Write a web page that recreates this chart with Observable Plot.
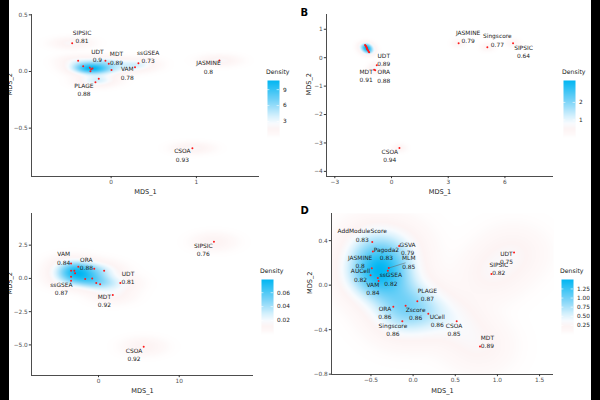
<!DOCTYPE html>
<html>
<head>
<meta charset="utf-8">
<script src="https://cdn.jsdelivr.net/npm/d3@7"></script>
<script src="https://cdn.jsdelivr.net/npm/@observablehq/plot@0.6"></script>
<style>
  body { margin: 0; background: #fff; }
  #root { position: relative; width: 600px; height: 400px; overflow: hidden; font-family: "DejaVu Sans", sans-serif; }
  .bar { position: absolute; top: 0; width: 9px; height: 400px; background: #000; z-index: 10; }
  .legend-title { position: absolute; font-size: 6.2px; color: #222; white-space: nowrap; }
</style>
</head>
<body>
<div id="root"></div>
<script>
// ---- Panel A: MDS coordinates and scores per method (null score = unlabelled point) ----
const aMethod = ["SIPSIC", "UDT", "MDT", "ssGSEA", "VAM", "JASMINE", "PLAGE", "CSOA", "a1", "a2", "a3", "a4", "a5", "a6", "a7", "a8"];
const aX = [-0.457, -0.067, -0.028, 0.32, 0.28, 1.27, -0.184, 0.953, -0.387, -0.328, -0.25, -0.219, -0.243, -0.145, 0.004, -0.235];
const aY = [0.25, 0.094, 0.068, 0.073, 0.038, 0.097, -0.094, -0.677, 0.094, 0.047, 0.033, 0.026, 0.003, -0.065, 0.012, 0.02];
const aScore = [0.81, 0.9, 0.89, 0.73, 0.78, 0.8, 0.88, 0.93, null, null, null, null, null, null, null, null];
const aXTicks = [0, 1];
const aYTicks = [-0.5, 0, 0.5];
const aLegendTicks = [3, 6, 9];

// ---- Panel B ----
const bMethod = ["UDT", "MDT", "ORA", "JASMINE", "Singscore", "SIPSIC", "CSOA", "b1", "b2", "b3", "b4", "b5", "b6", "b7", "b8", "b9", "b10", "b11"];
const bX = [-0.78, -0.92, -0.86, 3.55, 5.07, 6.43, 0.42, -1.40, -1.37, -1.35, -1.33, -1.31, -1.30, -1.29, -1.27, -1.24, -1.21, -1.18];
const bY = [-0.27, -0.42, -0.44, 0.51, 0.37, 0.51, -3.18, 0.45, 0.42, 0.40, 0.38, 0.35, 0.33, 0.30, 0.28, 0.25, 0.21, 0.19];
const bScore = [0.89, 0.91, 0.88, 0.79, 0.77, 0.64, 0.94, null, null, null, null, null, null, null, null, null, null, null];
const bXTicks = [-3, 0, 3, 6];
const bYTicks = [-4, -3, -2, -1, 0, 1];
const bLegendTicks = [1, 2];

// ---- Panel C ----
const cMethod = ["VAM", "ORA", "ssGSEA", "UDT", "MDT", "SIPSIC", "CSOA", "c1", "c2", "c3", "c4", "c5", "c6", "c7", "c8", "c9", "c10"];
const cX = [-3.4, -2.5, -3.4, 2.7, 1.77, 14.3, 5.6, -3.4, -3.0, -2.9, -3.4, -0.53, 0.7, -1.65, -0.78, -0.28, 0.2];
const cY = [1.13, 0.88, -0.17, -0.35, -1.25, 2.75, -5.13, 0.58, 0.58, 0.38, 0.13, 0.73, 0.58, -0.05, 0.0, -0.35, -0.43];
const cScore = [0.84, 0.88, 0.87, 0.81, 0.92, 0.76, 0.92, null, null, null, null, null, null, null, null, null, null];
const cXTicks = [0, 10];
const cYTicks = [-5, -2.5, 0, 2.5];
const cLegendTicks = [0.02, 0.04, 0.06];

// ---- Panel D ----
const dMethod = ["AddModuleScore", "Pagoda2", "GSVA", "MLM", "JASMINE", "AUCell", "ssGSEA", "VAM", "PLAGE", "ORA", "Zscore", "Singscore", "UCell", "CSOA", "MDT", "UDT", "SIPSIC", "d1"];
const dX = [-0.485, -0.477, -0.166, -0.289, -0.49, -0.505, -0.30, -0.41, 0.05, -0.235, -0.089, -0.128, 0.18, 0.517, 0.793, 1.197, 0.929, -0.418];
const dY = [0.387, 0.303, 0.352, 0.154, 0.151, 0.088, 0.13, 0.038, -0.145, -0.193, -0.184, -0.325, -0.258, -0.325, -0.552, 0.294, 0.10, 0.065];
const dScore = [0.83, 0.83, 0.79, 0.85, 0.8, 0.82, 0.82, 0.84, 0.87, 0.86, 0.86, 0.86, 0.86, 0.85, 0.89, 0.75, 0.82, null];
const dXTicks = [-0.5, 0, 0.5, 1, 1.5];
const dYTicks = [-0.8, -0.4, 0, 0.4];
const dLegendTicks = [0.25, 0.5, 0.75, 1, 1.25];

// Label placement (pixel offset of the two-line label centre from its point)
const labelShift = {
  A: {SIPSIC: [9.8, -6.9], UDT: [-8, -5.3], MDT: [7.7, -5.8], ssGSEA: [9.7, -6.7], VAM: [-7.7, 5.8], JASMINE: [-11, 6.5], PLAGE: [-11.5, 7.3], CSOA: [-10, 6.8]},
  B: {UDT: [7, -5.8], MDT: [-8, 5.7], ORA: [8.5, 5.5], JASMINE: [9.5, -6.9], Singscore: [10, -7.5], SIPSIC: [10.4, 7.8], CSOA: [-9.7, 7.1]},
  C: {VAM: [-7.4, -5.5], ORA: [8, -3.5], ssGSEA: [-9.7, 7.5], UDT: [7.7, -5.6], MDT: [-8.4, 5.5], SIPSIC: [-10.7, 7.5], CSOA: [-9.7, 7.5]},
  D: {AddModuleScore: [-10, -7.1], Pagoda2: [13.5, 2.1], GSVA: [8.5, 2.1], MLM: [20, -6.2], JASMINE: [-11.7, -6.9], AUCell: [-10, -0.7],
      ssGSEA: [3, 8], VAM: [-5.7, 7.5], PLAGE: [10, -7.2], ORA: [-8.4, 5.5], Zscore: [10, 7.5], Singscore: [-9.4, 7.8],
      UCell: [9, 6.7], CSOA: [-2.7, 7.8], MDT: [7.4, -5], UDT: [-7.6, 4.6], SIPSIC: [7.3, -5.9]}
};
// labels joined to their point by a short segment
const labelSegments = {D: ["MLM"]};

const root = document.getElementById("root");
const FONT = "DejaVu Sans, sans-serif";

// density fill: white at zero, faint rose for low values, pale to deep sky blue at the peak
const rampStops = [[0, "#ffffff"], [0.05, "#fef9f9"], [0.15, "#fdf4f4"], [0.25, "#f8fbfe"], [0.36, "#daf2fd"], [0.62, "#80d5f8"], [1, "#00b6f2"]];
function ramp(t) {
  t = Math.max(0, Math.min(1, t));
  for (let i = 1; i < rampStops.length; i++) {
    const [t1, c1] = rampStops[i];
    const [t0, c0] = rampStops[i - 1];
    if (t <= t1) return d3.interpolateRgb(c0, c1)((t - t0) / (t1 - t0));
  }
  return rampStops[rampStops.length - 1][1];
}

// 2-D Gaussian kernel density with normal-reference bandwidths
function kde(xs, ys) {
  const n = xs.length;
  const bw = v => {
    const iqr = d3.quantile(v, 0.75) - d3.quantile(v, 0.25);
    return 1.06 * Math.min(d3.deviation(v), iqr / 1.34) * Math.pow(n, -0.2);
  };
  const hx = bw(xs), hy = bw(ys);
  const c = 1 / (2 * Math.PI * hx * hy * n);
  return (x, y) => {
    let s = 0;
    for (let i = 0; i < n; i++) {
      const u = (x - xs[i]) / hx, v = (y - ys[i]) / hy;
      s += Math.exp(-0.5 * (u * u + v * v));
    }
    return s * c;
  };
}

function place(el, left, top) {
  el.style.position = "absolute";
  el.style.left = left + "px";
  el.style.top = top + "px";
  root.appendChild(el);
}

function drawPanel(p) {
  const rows = p.method.map((m, i) => ({method: m, x: p.x[i], y: p.y[i], score: p.score[i]}));
  const density = kde(p.x, p.y);
  let peak = 0;
  for (let i = 0; i < 100; i++) {
    for (let j = 0; j < 100; j++) {
      const gx = p.xDomain[0] + (p.xDomain[1] - p.xDomain[0]) * i / 99;
      const gy = p.yDomain[0] + (p.yDomain[1] - p.yDomain[0]) * j / 99;
      peak = Math.max(peak, density(gx, gy));
    }
  }
  const shifts = labelShift[p.key];
  const labelled = rows.filter(d => d.score != null);
  const segs = labelSegments[p.key] || [];

  const marks = [
    Plot.raster({fill: density, x1: p.xDomain[0], x2: p.xDomain[1], y1: p.yDomain[0], y2: p.yDomain[1], pixelSize: 1}),
    Plot.ruleX([p.xDomain[0]], {stroke: "#000", strokeWidth: 0.7}),
    Plot.ruleY([p.yDomain[0]], {stroke: "#000", strokeWidth: 0.7}),
    Plot.axisX({ticks: p.xTicks, tickFormat: p.xFormat, tickSize: 2.2, tickPadding: 1.5, stroke: "#333", fill: "#4d4d4d", fontSize: 5.8, label: null}),
    Plot.axisY({ticks: p.yTicks, tickFormat: p.yFormat, tickSize: 2.2, tickPadding: 1.5, stroke: "#333", fill: "#4d4d4d", fontSize: 5.8, label: null}),
    Plot.text(["MDS_1"], {frameAnchor: "bottom", dy: p.xTitleDy, lineAnchor: "middle", fontSize: 6.6, fill: "#222"}),
    Plot.text(["MDS_2"], {frameAnchor: "left", dx: p.yTitleDx, rotate: -90, lineAnchor: "middle", fontSize: 6.6, fill: "#222"}),
    Plot.text([p.letter], {frameAnchor: "top-left", dx: p.letterDx, dy: p.letterDy, textAnchor: "start", lineAnchor: "middle", fontSize: 10, fontWeight: "bold", fill: "#000"}),
    ...labelled.filter(d => segs.includes(d.method)).map(d => {
      const [sx, sy] = shifts[d.method];
      const len = Math.hypot(sx, sy) * 0.82;
      const ang = Math.atan2(sx, -sy) * 180 / Math.PI;
      return Plot.vector([d], {x: "x", y: "y", length: len, rotate: ang, anchor: "start", stroke: "#666", strokeWidth: 0.5,
        shape: {draw(context, l) { context.moveTo(0, 0); context.lineTo(0, -l); }}});
    }),
    Plot.dot(rows, {x: "x", y: "y", r: 1, fill: "#ff1a1a", stroke: null}),
    ...labelled.map(d => Plot.text([d], {
      x: "x", y: "y", text: r => `${r.method}\n${r.score}`,
      dx: shifts[d.method][0], dy: shifts[d.method][1],
      lineAnchor: "middle", lineHeight: 1.42, fontSize: 5.9, fill: "#222"
    }))
  ];

  const svg = Plot.plot({
    width: 300, height: 200,
    marginLeft: p.m[0], marginRight: p.m[1], marginTop: p.m[2], marginBottom: p.m[3],
    style: {fontFamily: FONT, background: "transparent", overflow: "visible"},
    x: {domain: p.xDomain},
    y: {domain: p.yDomain},
    color: {type: "linear", domain: [0, peak], interpolate: ramp},
    marks
  });
  place(svg, p.left, p.top);

  // colour bar
  const lg = p.legend;
  const legend = Plot.plot({
    width: 36, height: lg.h + 10, marginTop: 4, marginBottom: 6, marginLeft: 0, marginRight: 24,
    style: {fontFamily: FONT, background: "transparent", overflow: "visible"},
    x: {domain: [0, 1], axis: null},
    y: {domain: [0, peak], axis: null},
    color: {type: "linear", domain: [0, peak], interpolate: ramp},
    marks: [
      Plot.raster({fill: (x, y) => y, x1: 0, x2: 1, y1: 0, y2: peak, pixelSize: 1}),
      Plot.ruleY(lg.ticks, {x1: 0, x2: 0.2, stroke: "#fff", strokeWidth: 0.6}),
      Plot.ruleY(lg.ticks, {x1: 0.8, x2: 1, stroke: "#fff", strokeWidth: 0.6}),
      Plot.axisY(lg.ticks, {anchor: "right", tickSize: 0, tickPadding: 3.5, tickFormat: lg.format, fontSize: 5.8, fill: "#222", label: null})
    ]
  });
  place(legend, lg.x, lg.y - 4);
  const t = document.createElement("div");
  t.className = "legend-title";
  t.textContent = "Density";
  place(t, lg.x - 1, lg.y - 12);
}

const f1 = d3.format(".1f"), f0 = d3.format("d"), f2 = d3.format(".2f");

drawPanel({key: "A", letter: "A", method: aMethod, x: aX, y: aY, score: aScore, left: 0, top: 0,
  m: [31, 41, 14, 24], xDomain: [-0.934, 1.74], yDomain: [-0.927, 0.503],
  xTicks: aXTicks, yTicks: aYTicks, xFormat: f0, yFormat: f1, xTitleDy: 15, yTitleDx: -21.5, letterDx: -31, letterDy: -2,
  legend: {x: 267, y: 80, h: 57, ticks: aLegendTicks, format: f0}});

drawPanel({key: "B", letter: "B", method: bMethod, x: bX, y: bY, score: bScore, left: 300, top: 0,
  m: [26, 47, 14, 24], xDomain: [-3.44, 8.57], yDomain: [-4.18, 1.52],
  xTicks: bXTicks, yTicks: bYTicks, xFormat: f0, yFormat: f0, xTitleDy: 15.7, yTitleDx: -17.7, letterDx: -26, letterDy: -2,
  legend: {x: 563, y: 80, h: 57, ticks: bLegendTicks, format: f0}});

drawPanel({key: "C", letter: "C", method: cMethod, x: cX, y: cY, score: cScore, left: 0, top: 200,
  m: [31, 47, 13, 25], xDomain: [-8.3, 19.2], yDomain: [-7.3, 4.88],
  xTicks: cXTicks, yTicks: cYTicks, xFormat: f0, yFormat: f1, xTitleDy: 15.7, yTitleDx: -21.5, letterDx: -31, letterDy: -2,
  legend: {x: 261, y: 279, h: 55, ticks: cLegendTicks, format: f2}});

drawPanel({key: "D", letter: "D", method: dMethod, x: dX, y: dY, score: dScore, left: 300, top: 200,
  m: [31, 47, 13, 26], xDomain: [-0.968, 1.665], yDomain: [-0.803, 0.644],
  xTicks: dXTicks, yTicks: dYTicks, xFormat: f1, yFormat: f1, xTitleDy: 16.7, yTitleDx: -21.7, letterDx: -31, letterDy: -3,
  legend: {x: 561, y: 279, h: 55, ticks: dLegendTicks, format: f2}});

// dark side strips framing the figure
const lb = document.createElement("div"); lb.className = "bar"; lb.style.left = "0px"; root.appendChild(lb);
const rb = document.createElement("div"); rb.className = "bar"; rb.style.left = "591px"; root.appendChild(rb);
</script>
</body>
</html>
